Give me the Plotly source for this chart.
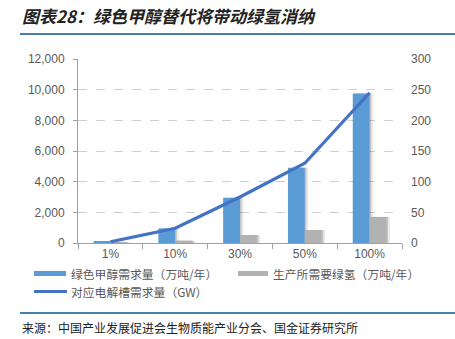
import plotly.graph_objects as go

categories = ["1%", "10%", "30%", "50%", "100%"]
methanol_demand = [100, 950, 2950, 4900, 9750]      # 绿色甲醇需求量（万吨/年）
hydrogen_needed = [20, 150, 520, 850, 1700]          # 生产所需要绿氢（万吨/年）
electrolyzer_gw = [2, 24, 75, 130, 245]              # 对应电解槽需求量（GW）

left_ticks = [0, 2000, 4000, 6000, 8000, 10000, 12000]
right_ticks = [0, 50, 100, 150, 200, 250, 300]

BLUE = "#5b9bd5"
GRAY = "#b2b2b2"
LINE = "#4472c4"
RULE = "#4a7fa8"
TXT = "#595959"
CJK = "Noto Sans CJK SC"

W, H = 455, 339
L, R, T, B = 78, 402, 59, 243
BW = 0.26  # bar width in category units


def px(x):
    return (x - L) / (R - L)


def py(y):
    return (B - y) / (B - T)


fig = go.Figure()

# soft drop shadows to the right of each bar
for dx, alpha in [(0.025, 0.16), (0.055, 0.08)]:
    for vals, off in [(methanol_demand, -BW), (hydrogen_needed, 0.0)]:
        fig.add_trace(go.Bar(x=categories, y=vals, width=BW, offset=off + dx,
                             marker=dict(color=f"rgba(0,0,0,{alpha})", line=dict(width=0)),
                             hoverinfo="skip", showlegend=False))

fig.add_trace(go.Bar(x=categories, y=methanol_demand, width=BW, offset=-BW,
                     marker=dict(color=BLUE, line=dict(width=0)),
                     name="绿色甲醇需求量（万吨/年）", showlegend=False))
fig.add_trace(go.Bar(x=categories, y=hydrogen_needed, width=BW, offset=0.0,
                     marker=dict(color=GRAY, line=dict(width=0)),
                     name="生产所需要绿氢（万吨/年）", showlegend=False))
fig.add_trace(go.Scatter(x=categories, y=electrolyzer_gw, yaxis="y2", mode="lines",
                         line=dict(color=LINE, width=3.2),
                         name="对应电解槽需求量（GW）", showlegend=False))

ROW1, ROW2 = 273.5, 291.5

shapes = [
    # rules under the title and above the source note
    dict(type="line", xref="paper", yref="paper", x0=px(20), x1=px(455),
         y0=py(34), y1=py(34), line=dict(color=RULE, width=2)),
    dict(type="line", xref="paper", yref="paper", x0=px(20), x1=px(455),
         y0=py(313), y1=py(313), line=dict(color=RULE, width=2)),
    # legend swatches
    dict(type="rect", xref="paper", yref="paper", x0=px(34), x1=px(66),
         y0=py(ROW1 + 2.5), y1=py(ROW1 - 2.5), fillcolor=BLUE, line=dict(width=0)),
    dict(type="rect", xref="paper", yref="paper", x0=px(238), x1=px(268),
         y0=py(ROW1 + 2.5), y1=py(ROW1 - 2.5), fillcolor=GRAY, line=dict(width=0)),
    dict(type="line", xref="paper", yref="paper", x0=px(34), x1=px(67),
         y0=py(ROW2), y1=py(ROW2), line=dict(color=LINE, width=3)),
]

legend_font = dict(family=CJK, size=11.8, color=TXT)
annotations = [
    dict(text="<b><i>图表28：绿色甲醇替代将带动绿氢消纳</i></b>", xref="paper", yref="paper",
         x=px(20), y=py(16), xanchor="left", yanchor="middle", showarrow=False,
         font=dict(family=CJK, size=17, color="#222222")),
    dict(text="绿色甲醇需求量（万吨/年）", xref="paper", yref="paper",
         x=px(69), y=py(ROW1), xanchor="left", yanchor="middle", showarrow=False,
         font=legend_font),
    dict(text="生产所需要绿氢（万吨/年）", xref="paper", yref="paper",
         x=px(271), y=py(ROW1), xanchor="left", yanchor="middle", showarrow=False,
         font=legend_font),
    dict(text="对应电解槽需求量（GW）", xref="paper", yref="paper",
         x=px(69), y=py(ROW2), xanchor="left", yanchor="middle", showarrow=False,
         font=legend_font),
    dict(text="来源：中国产业发展促进会生物质能产业分会、国金证券研究所", xref="paper", yref="paper",
         x=px(20), y=py(327), xanchor="left", yanchor="middle", showarrow=False,
         font=dict(family=CJK, size=12, color="#222222")),
]

fig.update_layout(
    width=W, height=H,
    margin=dict(l=L, r=W - R, t=T, b=H - B, pad=0),
    paper_bgcolor="white", plot_bgcolor="white",
    barmode="overlay",
    font=dict(family="Liberation Sans, Arial", size=12, color=TXT),
    xaxis=dict(showline=True, linecolor="#a0a0a0", linewidth=1,
               ticks="outside", ticklen=5, tickcolor="#a0a0a0",
               tickson="boundaries", showgrid=False,
               tickfont=dict(size=12, color=TXT)),
    yaxis=dict(range=[0, 12000], tickvals=left_ticks, tickformat=",",
               showline=True, linecolor="#a0a0a0", linewidth=1,
               ticks="outside", ticklen=4, tickcolor="#a0a0a0",
               ticklabelstandoff=6,
               showgrid=True, gridcolor="#cfcfcf", griddash="dash", gridwidth=1,
               zeroline=False, tickfont=dict(size=12, color=TXT)),
    yaxis2=dict(range=[0, 300], tickvals=right_ticks, overlaying="y", side="right",
                showline=False, showgrid=False, zeroline=False, ticks="",
                ticklabelstandoff=8, tickfont=dict(size=12, color=TXT)),
    shapes=shapes, annotations=annotations,
)

fig.write_html("out.html")
